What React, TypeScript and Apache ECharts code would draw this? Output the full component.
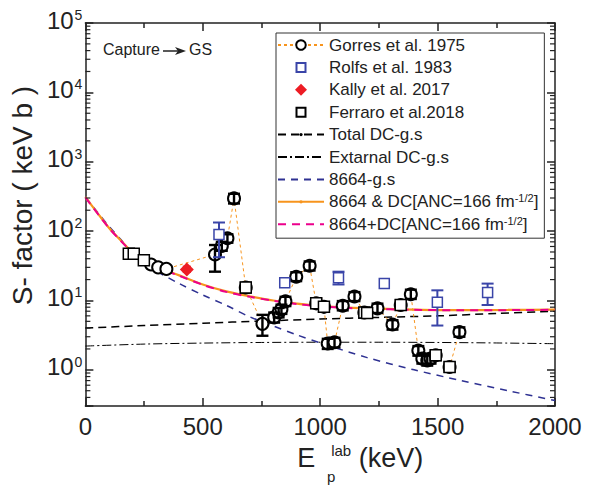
import React, { useEffect, useRef } from 'react';
import * as echarts from 'echarts';

const FONT = '"Liberation Sans", Arial, Helvetica, sans-serif';
const INK = '#222';

// Gorres et al. 1975: [E_lab (keV), S (keV b), errLow, errHigh]
const gorres: number[][] = [
  [280, 33, 33, 33], [310, 30, 30, 30], [345, 28.5, 28.5, 28.5],
  [552, 46, 26, 63], [581, 61, 52, 70], [605, 79, 68, 90], [633, 296, 250, 345],
  [683, 15.4, 13, 18], [754, 4.6, 3.1, 6.2], [804, 5.7, 4.8, 6.7], [823, 6.7, 5.7, 7.8],
  [835, 7.5, 6.4, 8.7], [852, 9.7, 8.3, 11.3], [898, 22, 19, 25.5], [955, 31.6, 27, 36.5],
  [983, 9.1, 7.8, 10.6], [1016, 8.1, 6.9, 9.4], [1032, 2.4, 2.0, 2.8], [1061, 2.5, 2.1, 2.9],
  [1096, 8.4, 7.2, 9.8], [1146, 11.4, 9.8, 13.2], [1188, 6.7, 5.7, 7.8], [1244, 7.7, 6.6, 9],
  [1308, 4.5, 3.8, 5.2], [1343, 8.6, 7.4, 10], [1386, 12.3, 10.5, 14.3], [1418, 1.9, 1.6, 2.2],
  [1435, 1.45, 1.23, 1.7], [1456, 1.37, 1.15, 1.6], [1470, 1.45, 1.23, 1.7], [1492, 1.62, 1.38, 1.9],
  [1551, 1.1, 0.94, 1.28], [1593, 3.5, 3.0, 4.1],
];
// Rolfs et al. 1983: [E, S, errLow, errHigh]
const rolfs: number[][] = [
  [569, 89, 42, 133], [849, 18, 18, 18], [1078, 21.3, 17, 26],
  [1273, 17.5, 17.5, 17.5], [1499, 9.4, 4.35, 14], [1713, 13, 8.6, 17.5],
];
// Kally et al. 2017
const kally: number[][] = [[432, 28, 25.5, 31]];
// Ferraro et al. 2018
const ferraro: number[][] = [
  [185, 47], [206, 47], [249, 38], [683, 15.4], [983, 9.1], [1016, 8.1],
  [1188, 6.7], [1200, 6.6], [1343, 8.6], [1492, 1.62], [1551, 1.1],
];

// Calculated curves
const curveE = [0, 50, 100, 150, 200, 300, 400, 500, 600, 700, 800, 900, 1000, 1200, 1400, 1600, 1800, 2000];
const gs8664 = [310, 190, 118, 76, 49, 27, 17.5, 12, 8.5, 5.8, 4.3, 3.2, 2.45, 1.5, 1.0, 0.7, 0.5, 0.36];
const with8664DC = [310, 185, 112, 74, 50, 31, 23, 17, 13.5, 11.5, 10, 9, 8.3, 7.7, 7.4, 7.25, 7.3, 7.4];
const plus8664DC = [305, 183, 111, 73, 49.5, 30.5, 22.7, 16.8, 13.3, 11.3, 9.9, 8.9, 8.2, 7.6, 7.35, 7.2, 7.25, 7.35];
const dcE = [0, 250, 500, 750, 1000, 1250, 1500, 1750, 2000];
const totalDC = [4.0, 4.35, 4.7, 5.05, 5.4, 5.7, 6.0, 6.5, 7.0];
const externalDC = [2.2, 2.35, 2.43, 2.48, 2.5, 2.5, 2.48, 2.44, 2.38];

const N_GORRES = 'Gorres et al. 1975';
const N_ROLFS = 'Rolfs et al. 1983';
const N_KALLY = 'Kally et al. 2017';
const N_FERRARO = 'Ferraro et al.2018';
const N_TOTAL = 'Total DC-g.s';
const N_EXT = 'Extarnal DC-g.s';
const N_GS = '8664-g.s';
const N_AND = '8664 & DC[ANC=166 fm-1/2]';
const N_PLUS = '8664+DC[ANC=166 fm-1/2]';

const ORANGE = '#F7941D';
const PINK = '#EC008C';
const NAVY = '#2E3192';
const RBLUE = '#3A45A8';
const RED = '#ED1C24';

const SQUARE_ICON = 'path://M0,0M12,12M1.5,1.5L10.5,1.5L10.5,10.5L1.5,10.5Z';
const DIAMOND_ICON = 'path://M6,0L12,6L6,12L0,6Z';
const DOT_SYMBOL = 'path://M0,0M10,10M3.3,5A1.7,1.7,0,1,0,6.7,5A1.7,1.7,0,1,0,3.3,5Z';
const HIDDEN = { color: 'rgba(0,0,0,0)', borderColor: 'rgba(0,0,0,0)', borderWidth: 0 };

const Y_MIN = 0.3;
const Y_MAX = 100000;
const X_MIN = 0;
const X_MAX = 2000;

const minorValues: number[][] = [];
for (let n = -1; n <= 4; n++) {
  for (let k = 2; k <= 9; k++) {
    const v = k * Math.pow(10, n);
    if (v > Y_MIN && v < Y_MAX) minorValues.push([X_MIN, v]);
  }
}

const zip = (xs: number[], ys: number[]) => xs.map((x, i) => [x, ys[i]]);

function errRender(capHalf: number, color: string, lw: number) {
  return (params: any, api: any) => {
    const x = api.value(0);
    const lo = api.value(2);
    const hi = api.value(3);
    if (lo === hi) return null;
    const a = api.coord([x, lo]);
    const b = api.coord([x, hi]);
    const style = { stroke: color, lineWidth: lw };
    return {
      type: 'group',
      children: [
        { type: 'line', shape: { x1: a[0], y1: a[1], x2: b[0], y2: b[1] }, style },
        { type: 'line', shape: { x1: a[0] - capHalf, y1: a[1], x2: a[0] + capHalf, y2: a[1] }, style },
        { type: 'line', shape: { x1: b[0] - capHalf, y1: b[1], x2: b[0] + capHalf, y2: b[1] }, style },
      ],
    };
  };
}

export default function App() {
  const ref = useRef<HTMLDivElement>(null);
  useEffect(() => {
    if (!ref.current) return;
    const chart = echarts.init(ref.current, undefined, { renderer: 'svg' });
    const axisLine = { onZero: false, lineStyle: { color: INK, width: 1.5 } };
    const tick = { inside: true, length: 8, lineStyle: { color: INK, width: 1.5 } };
    const minor = { show: true, splitNumber: 2, length: 5, lineStyle: { color: INK, width: 1.5 } };
    const option: any = {
      animation: false,
      backgroundColor: '#fff',
      textStyle: { fontFamily: FONT },
      grid: { left: 83, right: 34, top: 23, bottom: 75 },
      xAxis: [
        {
          type: 'value', min: X_MIN, max: X_MAX, interval: 500, position: 'bottom',
          axisLine, axisTick: tick, minorTick: minor,
          splitLine: { show: false }, minorSplitLine: { show: false },
          axisLabel: { fontSize: 24, color: INK, margin: 8, fontFamily: FONT, formatter: (v: number) => String(v) },
          name: '{b|E}{l|lab}{b| (keV)}', nameLocation: 'middle', nameGap: 33,
          nameTextStyle: {
            padding: [0, 0, 0, 80],
            rich: {
              b: { fontSize: 27, color: INK, fontFamily: FONT, lineHeight: 28, verticalAlign: 'bottom' },
              l: { fontSize: 15, color: INK, fontFamily: FONT, lineHeight: 15, verticalAlign: 'top', padding: [0, 0, 22, 16] },
            },
          },
        },
        {
          type: 'value', min: X_MIN, max: X_MAX, interval: 500, position: 'top',
          axisLine, axisTick: tick, minorTick: minor,
          splitLine: { show: false }, axisLabel: { show: false },
        },
      ],
      yAxis: [
        {
          type: 'log', logBase: 10, min: Y_MIN, max: Y_MAX, position: 'left',
          axisLine, axisTick: tick, splitLine: { show: false },
          axisLabel: {
            margin: 3,
            padding: [0, 0, 6, 0],
            formatter: (v: number) => {
              const e = Math.log10(v);
              const r = Math.round(e);
              if (Math.abs(e - r) > 1e-6) return '';
              return '{b|10}{s|' + r + '}';
            },
            rich: {
              b: { fontSize: 24, color: INK, fontFamily: FONT, lineHeight: 24, verticalAlign: 'bottom' },
              s: { fontSize: 14, color: INK, fontFamily: FONT, lineHeight: 14, verticalAlign: 'top', padding: [0, 0, 16, 1] },
            },
          },
          name: 'S- factor ( keV b )', nameLocation: 'middle', nameGap: 46,
          nameTextStyle: { fontSize: 28, color: INK, fontFamily: FONT, padding: [0, 0, 0, 38] },
        },
        {
          type: 'log', logBase: 10, min: Y_MIN, max: Y_MAX, position: 'right',
          axisLine, axisTick: tick, splitLine: { show: false }, axisLabel: { show: false },
        },
      ],
      legend: {
        orient: 'vertical', left: 276, top: 33,
        padding: [3, 6, 5, 1],
        borderColor: '#333', borderWidth: 1, backgroundColor: '#fff',
        itemWidth: 46, itemHeight: 12, itemGap: 4.4,
        textStyle: {
          fontSize: 17, color: INK, fontFamily: FONT, lineHeight: 18,
          rich: { sup: { fontSize: 11, color: INK, fontFamily: FONT, lineHeight: 11, verticalAlign: 'top' } },
        },
        formatter: (name: string) => name.replace('fm-1/2]', 'fm{sup|-1/2}]'),
        data: [
          { name: N_GORRES },
          { name: N_ROLFS, icon: SQUARE_ICON },
          { name: N_KALLY, icon: DIAMOND_ICON },
          { name: N_FERRARO, icon: SQUARE_ICON },
          { name: N_TOTAL },
          { name: N_EXT, itemStyle: HIDDEN },
          { name: N_GS, itemStyle: HIDDEN },
          { name: N_AND },
          { name: N_PLUS, itemStyle: HIDDEN },
        ],
      },
      graphic: [
        { type: 'text', x: 103, y: 49, style: { text: 'Capture', fontSize: 16, fontFamily: FONT, fill: INK, verticalAlign: 'middle' } },
        { type: 'line', shape: { x1: 163, y1: 51, x2: 181, y2: 51 }, style: { stroke: INK, lineWidth: 1.5 } },
        { type: 'polygon', shape: { points: [[175, 47], [186, 51], [175, 55], [178, 51]] }, style: { fill: INK } },
        { type: 'text', x: 189, y: 49, style: { text: 'GS', fontSize: 16, fontFamily: FONT, fill: INK, verticalAlign: 'middle' } },
        { type: 'text', x: 327, y: 476, style: { text: 'p', fontSize: 15, fontFamily: FONT, fill: INK, verticalAlign: 'middle' } },
      ],
      series: [
        {
          name: N_TOTAL, type: 'line', data: zip(dcE, totalDC), smooth: 0.3,
          symbol: DOT_SYMBOL, symbolSize: 10, showSymbol: false,
          lineStyle: { color: '#000', width: 1.5, type: [8, 5] }, itemStyle: { color: '#000' }, z: 2,
        },
        {
          name: N_EXT, type: 'line', data: zip(dcE, externalDC), smooth: 0.3, symbol: 'none',
          lineStyle: { color: '#000', width: 1, type: [9, 3, 2, 3] }, itemStyle: { color: '#000' }, z: 2,
        },
        {
          name: N_GS, type: 'line', data: zip(curveE, gs8664), smooth: 0.3, symbol: 'none',
          lineStyle: { color: NAVY, width: 1.5, type: [7, 6] }, itemStyle: { color: NAVY }, z: 2,
        },
        {
          name: N_AND, type: 'line', data: zip(curveE, with8664DC), smooth: 0.3,
          symbol: DOT_SYMBOL, symbolSize: 10, showSymbol: false,
          lineStyle: { color: ORANGE, width: 2.2 }, itemStyle: { color: ORANGE }, z: 2,
        },
        {
          name: N_PLUS, type: 'line', data: zip(curveE, plus8664DC), smooth: 0.3, symbol: 'none',
          lineStyle: { color: PINK, width: 2, type: [8, 6] }, itemStyle: { color: PINK }, z: 2,
        },
        {
          name: N_GORRES, type: 'line', data: gorres.map((d) => [d[0], d[1]]),
          symbol: 'emptyCircle', symbolSize: 12,
          lineStyle: { color: ORANGE, width: 1, type: [3, 3] },
          itemStyle: { color: '#000', borderColor: '#000', borderWidth: 1.5 }, z: 3,
        },
        {
          type: 'custom', data: gorres, encode: { x: 0, y: [1, 2, 3] },
          renderItem: errRender(6, '#000', 2.4), z: 4, silent: true, clip: false,
        },
        {
          name: N_FERRARO, type: 'scatter', data: ferraro, symbol: 'rect', symbolSize: 11,
          itemStyle: { color: '#fff', borderColor: '#000', borderWidth: 1.5, opacity: 1 }, z: 4,
        },
        {
          type: 'custom', data: rolfs, encode: { x: 0, y: [1, 2, 3] },
          renderItem: errRender(6, RBLUE, 2), z: 4, silent: true, clip: false,
        },
        {
          name: N_ROLFS, type: 'scatter', data: rolfs.map((d) => [d[0], d[1]]), symbol: 'rect', symbolSize: 10,
          itemStyle: { color: '#fff', borderColor: RBLUE, borderWidth: 1.5, opacity: 1 }, z: 5,
        },
        {
          type: 'custom', data: kally, encode: { x: 0, y: [1, 2, 3] },
          renderItem: errRender(4, RED, 1.5), z: 4, silent: true, clip: false,
        },
        {
          name: N_KALLY, type: 'scatter', data: kally.map((d) => [d[0], d[1]]), symbol: 'diamond', symbolSize: 14,
          itemStyle: { color: RED, opacity: 1 }, z: 5,
        },
        {
          type: 'custom', data: minorValues, encode: { x: 0, y: 1 }, silent: true, clip: false, z: 6,
          renderItem: (params: any, api: any) => {
            const v = api.value(1);
            const L = api.coord([X_MIN, v]);
            const R = api.coord([X_MAX, v]);
            const style = { stroke: INK, lineWidth: 1.2 };
            return {
              type: 'group',
              children: [
                { type: 'line', shape: { x1: L[0], y1: L[1], x2: L[0] + 5, y2: L[1] }, style },
                { type: 'line', shape: { x1: R[0], y1: R[1], x2: R[0] - 5, y2: R[1] }, style },
              ],
            };
          },
        },
      ],
    };
    chart.setOption(option);
    return () => chart.dispose();
  }, []);
  return (
    <div
      ref={ref}
      style={{ position: 'absolute', left: 0, top: 0, width: 589, height: 485, background: '#fff' }}
    />
  );
}
